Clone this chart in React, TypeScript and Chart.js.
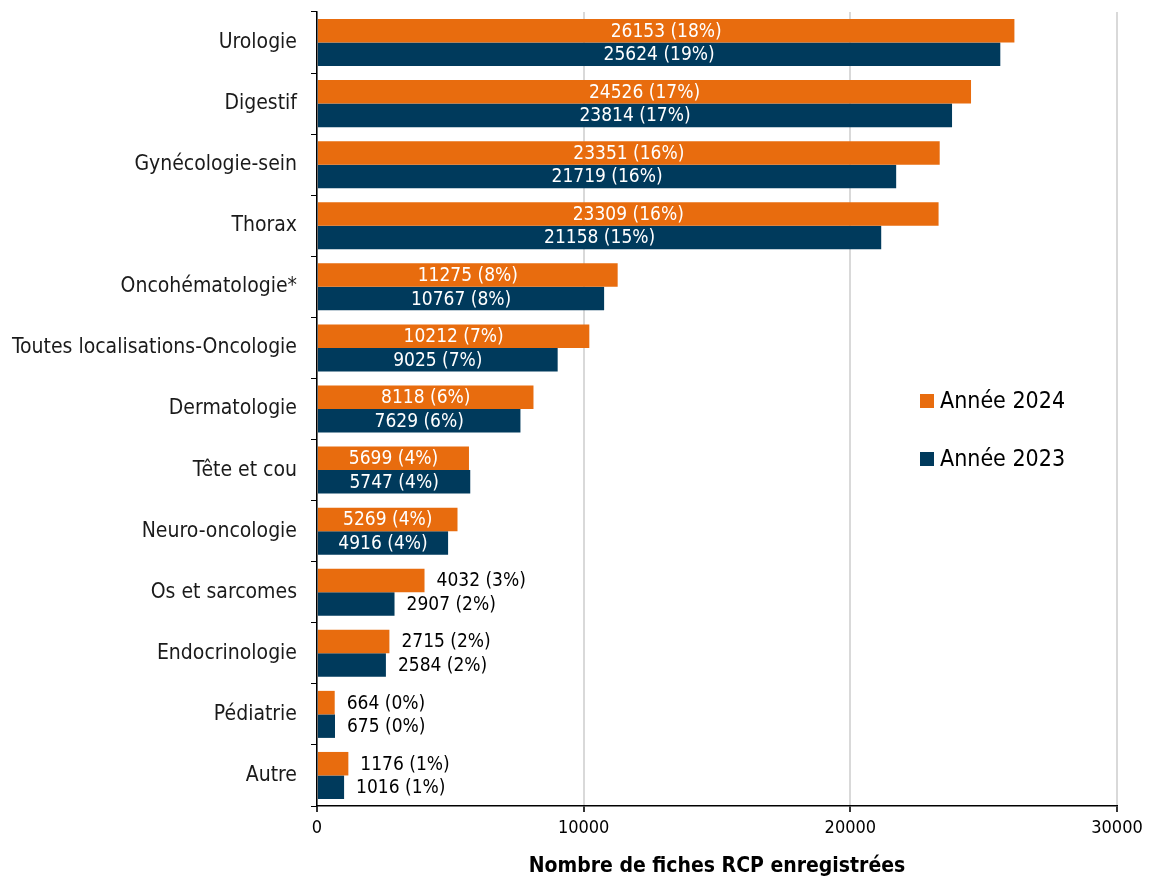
import React, { useEffect, useRef } from "react";
import { Chart, registerables } from "chart.js";

Chart.register(...registerables);

const categories = [
  "Urologie",
  "Digestif",
  "Gynécologie-sein",
  "Thorax",
  "Oncohématologie*",
  "Toutes localisations-Oncologie",
  "Dermatologie",
  "Tête et cou",
  "Neuro-oncologie",
  "Os et sarcomes",
  "Endocrinologie",
  "Pédiatrie",
  "Autre",
];
const values2024 = [26153, 24526, 23351, 23309, 11275, 10212, 8118, 5699, 5269, 4032, 2715, 664, 1176];
const values2023 = [25624, 23814, 21719, 21158, 10767, 9025, 7629, 5747, 4916, 2907, 2584, 675, 1016];
const pct2024 = [18, 17, 16, 16, 8, 7, 6, 4, 4, 3, 2, 0, 1];
const pct2023 = [19, 17, 16, 15, 8, 7, 6, 4, 4, 2, 2, 0, 1];
const seriesLabels = ["Année 2024", "Année 2023"];
const seriesColors = ["#E86C0E", "#003A5C"];
const xMin = 0;
const xMax = 30000;
const xStep = 10000;
const axisTitle = "Nombre de fiches RCP enregistrées";

const FONT = "'DejaVu Sans Condensed', 'Liberation Sans', sans-serif";

const barLabelPlugin = {
  id: "barLabels",
  afterDatasetsDraw(chart: any) {
    const ctx = chart.ctx;
    ctx.save();
    ctx.font = `19px ${FONT}`;
    ctx.textBaseline = "middle";
    chart.data.datasets.forEach((ds: any, di: number) => {
      const meta = chart.getDatasetMeta(di);
      const pcts = di === 0 ? pct2024 : pct2023;
      meta.data.forEach((bar: any, i: number) => {
        const { x, y, base } = bar.getProps(["x", "y", "base"], true);
        const text = `${ds.data[i]} (${pcts[i]}%)`;
        const w = ctx.measureText(text).width;
        const len = x - base;
        if (len > w + 30) {
          ctx.fillStyle = "#ffffff";
          ctx.textAlign = "center";
          ctx.fillText(text, (x + base) / 2, y + 1);
        } else {
          ctx.fillStyle = "#000000";
          ctx.textAlign = "left";
          ctx.fillText(text, x + 12, y + 1);
        }
      });
    });
    ctx.restore();
  },
};

const legendPlugin = {
  id: "customLegend",
  afterDraw(chart: any) {
    const ctx = chart.ctx;
    const area = chart.chartArea;
    const x0 = area.left + 603;
    const y0 = area.top + 389;
    const gap = 58;
    ctx.save();
    ctx.font = `23px ${FONT}`;
    ctx.textBaseline = "middle";
    ctx.textAlign = "left";
    seriesLabels.forEach((lab, i) => {
      const cy = y0 + i * gap;
      ctx.fillStyle = seriesColors[i];
      ctx.fillRect(x0, cy - 7, 14, 14);
      ctx.fillStyle = "#000000";
      ctx.fillText(lab, x0 + 20, cy + 1);
    });
    ctx.restore();
  },
};

export default function App() {
  const ref = useRef<HTMLCanvasElement | null>(null);

  useEffect(() => {
    if (!ref.current) return;
    const chart = new Chart(ref.current, {
      type: "bar",
      data: {
        labels: categories,
        datasets: [
          {
            label: seriesLabels[0],
            data: values2024,
            backgroundColor: seriesColors[0],
            categoryPercentage: 0.77,
            barPercentage: 1,
          },
          {
            label: seriesLabels[1],
            data: values2023,
            backgroundColor: seriesColors[1],
            categoryPercentage: 0.77,
            barPercentage: 1,
          },
        ],
      },
      options: {
        indexAxis: "y",
        animation: false,
        responsive: true,
        maintainAspectRatio: false,
        layout: { padding: { left: 0, right: 34, top: 12, bottom: 0 } },
        plugins: {
          legend: { display: false },
          tooltip: { enabled: false },
        },
        scales: {
          x: {
            min: xMin,
            max: xMax,
            ticks: {
              stepSize: xStep,
              color: "#000",
              font: { family: FONT, size: 18 },
              padding: 6,
              callback: (v: any) => String(v),
            },
            grid: {
              color: "#d9d9d9",
              lineWidth: 2,
              tickColor: "#333",
              tickLength: 6,
            },
            border: { color: "#000", width: 1.5 },
            title: {
              display: true,
              text: axisTitle,
              color: "#000",
              font: { family: FONT, size: 21, weight: "bold" },
              padding: { top: 4, bottom: 0 },
            },
            afterFit(scale: any) {
              scale.height = 73;
              scale.paddingLeft = 0;
              scale.paddingRight = 0;
            },
          },
          y: {
            ticks: {
              color: "#1a1a1a",
              font: { family: FONT, size: 21 },
              padding: 14,
            },
            grid: {
              offset: true,
              drawOnChartArea: false,
              color: "#000",
              tickLength: 6,
            },
            border: { color: "#000", width: 1.5 },
            afterFit(scale: any) {
              scale.width = 317;
              scale.paddingTop = 0;
              scale.paddingBottom = 0;
            },
          },
        },
      },
      plugins: [barLabelPlugin, legendPlugin],
    });
    return () => chart.destroy();
  }, []);

  return (
    <div style={{ position: "fixed", left: 0, top: 0, width: 1151, height: 879, background: "#fff" }}>
      <canvas ref={ref} />
    </div>
  );
}
